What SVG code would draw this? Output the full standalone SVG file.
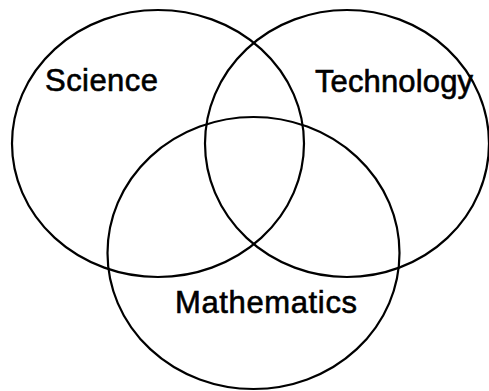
<svg xmlns="http://www.w3.org/2000/svg" width="489" height="391" viewBox="0 0 489 391">
<style>
.c{fill:none;stroke:#000;stroke-width:2.2}
.t{font-family:"Liberation Sans",Arial,sans-serif;font-size:31px;fill:#000;stroke:#000;stroke-width:0.6}
</style>
<rect width="489" height="391" fill="#fff"/>
<g id="science">
<ellipse class="c" cx="158" cy="143.5" rx="146" ry="133.5"/>
<text class="t" x="45" y="90.5" textLength="113">Science</text>
</g>
<g id="technology">
<ellipse class="c" cx="347" cy="143.5" rx="142" ry="133.5"/>
<text class="t" x="315" y="91.5" textLength="158">Technology</text>
</g>
<g id="mathematics">
<ellipse class="c" cx="253.5" cy="253" rx="146" ry="136"/>
<text class="t" x="175" y="312.7" textLength="182">Mathematics</text>
</g>
<g id="connectors"/>
</svg>
